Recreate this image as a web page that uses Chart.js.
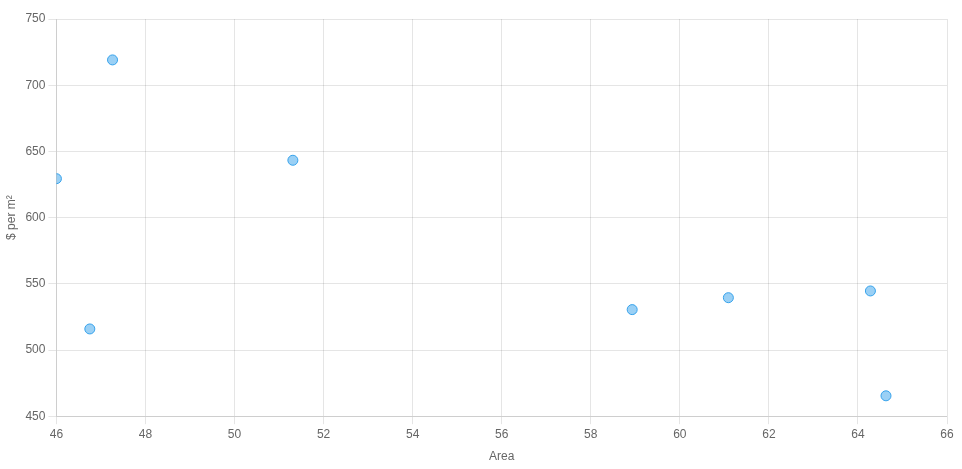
<!DOCTYPE html>
<html>
<head>
<meta charset="utf-8">
<script src="https://cdn.jsdelivr.net/npm/chart.js@4"></script>
<style>
  body { margin: 0; background: #fff; }
  #wrap { width: 962px; height: 469px; }
</style>
</head>
<body>
<div id="wrap"><canvas id="chart"></canvas></div>
<script>
  // area vs price per square metre
  const areas = [46.0, 46.75, 47.26, 51.31, 58.93, 61.09, 64.28, 64.63];
  const prices = [629.4, 515.9, 719.1, 643.3, 530.5, 539.5, 544.6, 465.4];

  const xTicks = { min: 46, max: 66, step: 2 };
  const yTicks = { min: 450, max: 750, step: 50 };

  const points = areas.map((a, i) => ({ x: a, y: prices[i] }));

  Chart.defaults.font.family = '"Liberation Sans", Arial, Helvetica, sans-serif';
  Chart.defaults.font.size = 12;
  Chart.defaults.color = '#666';

  new Chart(document.getElementById('chart').getContext('2d'), {
    type: 'scatter',
    data: {
      datasets: [{
        label: 'Price',
        data: points,
        backgroundColor: 'rgba(54, 162, 235, 0.5)',
        borderColor: 'rgba(54, 162, 235, 1)',
        borderWidth: 1,
        pointRadius: 5,
        pointHoverRadius: 6
      }]
    },
    options: {
      responsive: true,
      maintainAspectRatio: false,
      animation: false,
      layout: { padding: { top: 19, right: 15, bottom: 0 } },
      plugins: {
        legend: { display: false },
        tooltip: { enabled: false }
      },
      scales: {
        x: {
          type: 'linear',
          min: xTicks.min,
          max: xTicks.max,
          ticks: { stepSize: xTicks.step, padding: 3 },
          grid: { color: 'rgba(0,0,0,0.1)' },
          title: { display: true, text: 'Area', padding: { top: 5, bottom: 5 } }
        },
        y: {
          type: 'linear',
          min: yTicks.min,
          max: yTicks.max,
          ticks: { stepSize: yTicks.step },
          grid: { color: 'rgba(0,0,0,0.1)' },
          title: { display: true, text: '$ per m²' }
        }
      }
    }
  });
</script>
</body>
</html>
